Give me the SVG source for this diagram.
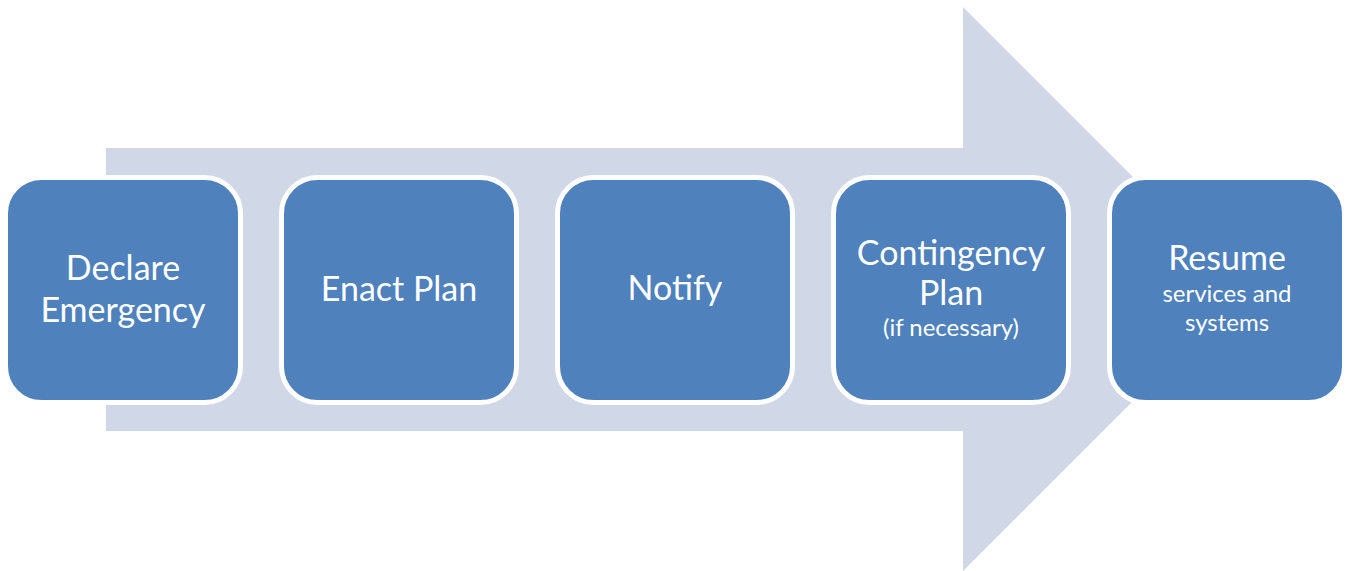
<svg xmlns="http://www.w3.org/2000/svg" width="1347" height="571" viewBox="0 0 1347 571">
<style>
.box{fill:#4F81BD;stroke:#FFFFFF;stroke-width:5}
.t{font-family:Lato,"Open Sans",sans-serif;fill:#FFFFFF;text-anchor:middle}
.big{font-size:34px}
.small{font-size:24px}
</style>
<rect width="1347" height="571" fill="#FFFFFF"/>
<g id="connectors">
<polygon points="106,148 963,148 963,7 1245,289 963,571 963,431 106,431" fill="#D0D8E8"/>
</g>
<g id="node1">
<rect class="box" x="5.5" y="177.5" width="235" height="225" rx="36"/>
<text class="t big" x="123" y="280">Declare</text>
<text class="t big" x="123" y="322">Emergency</text>
</g>
<g id="node2">
<rect class="box" x="281.5" y="177.5" width="235" height="225" rx="36"/>
<text class="t big" x="399" y="301">Enact Plan</text>
</g>
<g id="node3">
<rect class="box" x="557.5" y="177.5" width="235" height="225" rx="36"/>
<text class="t big" x="675" y="300">Notify</text>
</g>
<g id="node4">
<rect class="box" x="833.5" y="177.5" width="235" height="225" rx="36"/>
<text class="t big" x="951" y="265">Contingency</text>
<text class="t big" x="951" y="305">Plan</text>
<text class="t small" x="951" y="336">(if necessary)</text>
</g>
<g id="node5">
<rect class="box" x="1109.5" y="177.5" width="235" height="225" rx="36"/>
<text class="t big" x="1227" y="270">Resume</text>
<text class="t small" x="1227" y="302">services and</text>
<text class="t small" x="1227" y="331">systems</text>
</g>
</svg>
